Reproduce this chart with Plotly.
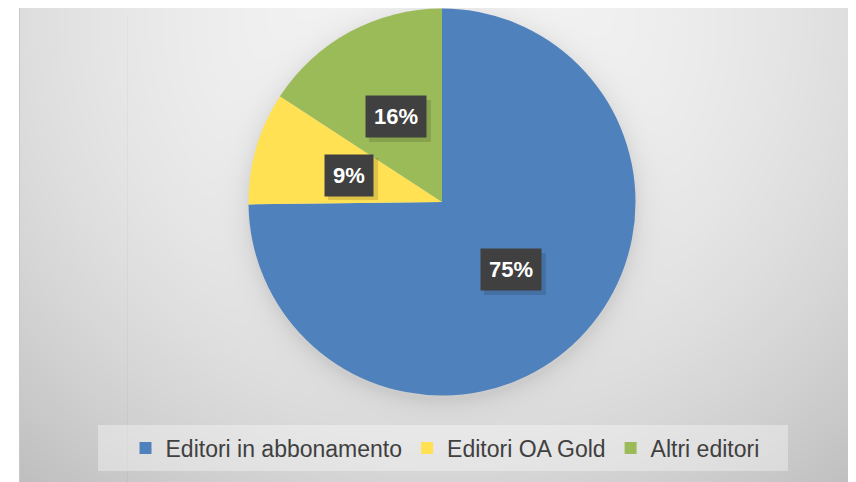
import base64, struct, zlib, math
import numpy as np
import plotly.graph_objects as go

# ---------------- data ----------------
categories = ["Editori in abbonamento", "Editori OA Gold", "Altri editori"]
shares = [74.8, 9.4, 15.8]
colors = ["#4f81bd", "#ffe153", "#9bbb59"]

# ---------------- geometry (page px; the html body adds an 8px margin) ----------------
PW, PH = 856, 482
OFF = 8
W, H = PW - OFF, PH - OFF
CX, CY, R = 442.0 - OFF, 202.0 - OFF, 193.5
dom_x = [(CX - 260) / W, (CX + 260) / W]
dom_y = [1 - (CY + R) / H, 1 - (CY - R) / H]

# ---------------- background gradient (with soft pie shadow) ----------------
BX0 = 19 - OFF
bw, bh = W - BX0, H
yy, xx = np.mgrid[0:bh, 0:bw].astype(float)
xx += BX0 + OFF      # page coordinates
yy += OFF
d2 = (xx - 440) ** 2 + ((yy - 20) * 1.05) ** 2
val = 244 - 1.30e-4 * d2
val = np.maximum(val, 192)
rr = np.sqrt((xx - (CX + OFF)) ** 2 + (yy - (CY + OFF + 4)) ** 2)
val -= 20 * np.exp(-np.maximum(rr - R, 0) / 11.0)
val[:, 0] = 200
val[17 - OFF:, 127 - 19] -= 7
img = np.clip(val, 0, 255).astype(np.uint8)


def png_gray(a):
    h, w = a.shape
    raw = b"".join(b"\x00" + a[i].tobytes() for i in range(h))

    def chunk(t, d):
        c = struct.pack(">I", len(d)) + t + d
        return c + struct.pack(">I", zlib.crc32(t + d) & 0xFFFFFFFF)

    return (b"\x89PNG\r\n\x1a\n"
            + chunk(b"IHDR", struct.pack(">IIBBBBB", w, h, 8, 0, 0, 0, 0))
            + chunk(b"IDAT", zlib.compress(raw, 9))
            + chunk(b"IEND", b""))


bg_src = "data:image/png;base64," + base64.b64encode(png_gray(img)).decode()

# ---------------- figure ----------------
fig = go.Figure()
fig.add_trace(go.Pie(
    labels=categories, values=shares, sort=False, direction="clockwise",
    rotation=0, marker=dict(colors=colors, line=dict(width=0)),
    textinfo="none", hoverinfo="skip",
    domain=dict(x=dom_x, y=dom_y),
))

# data labels placed at half radius, mid-angle of each slice
total = sum(shares)
annotations = []
shapes = []
cum = 0.0
for v in shares:
    frac = v / total
    mid = (cum + frac / 2) * 2 * math.pi
    cum += frac
    px = CX + 0.5 * R * math.sin(mid)
    py = CY - 0.5 * R * math.cos(mid)
    txt = f"{round(frac * 100)}%"
    hw = 31 if len(txt) > 2 else 25
    shapes.append(dict(type="rect", xref="paper", yref="paper",
                       x0=(px - hw + 4) / W, x1=(px + hw + 4) / W,
                       y0=1 - (py + 21 + 4) / H, y1=1 - (py - 21 + 4) / H,
                       fillcolor="rgba(0,0,0,0.13)", line=dict(width=0)))
    annotations.append(dict(x=px / W, y=1 - py / H, xref="paper", yref="paper",
                            xanchor="center", yanchor="middle",
                            showarrow=False, text=f"<b>{txt}</b>",
                            bgcolor="#404040", borderpad=8,
                            font=dict(family="Liberation Sans", size=22, color="white")))

shapes.insert(0, dict(type="rect", xref="paper", yref="paper",
                      x0=(98 - OFF) / W, x1=(788 - OFF) / W,
                      y0=1 - (471 - OFF) / H, y1=1 - (425 - OFF) / H,
                      fillcolor="rgba(255,255,255,0.35)", line=dict(width=0), layer="below"))

fig.update_layout(
    width=W, height=H,
    margin=dict(l=0, r=0, t=0, b=0),
    paper_bgcolor="white", plot_bgcolor="rgba(0,0,0,0)",
    images=[dict(source=bg_src, xref="paper", yref="paper", x=BX0 / W, y=1,
                 sizex=bw / W, sizey=1, sizing="stretch", xanchor="left",
                 yanchor="top", layer="below")],
    shapes=shapes,
    annotations=annotations,
    showlegend=True,
    legend=dict(orientation="h", x=(445 - OFF) / W, xanchor="center",
                y=1 - (448 - OFF) / H, yanchor="middle", bgcolor="rgba(0,0,0,0)",
                font=dict(family="Liberation Sans", size=23, color="#404040")),
    hovermode=False,
)

fig.write_html("out.html")
